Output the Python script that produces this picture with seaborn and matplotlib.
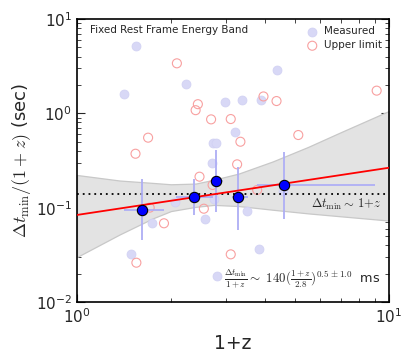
import numpy as np
import pandas as pd
import matplotlib
matplotlib.use("Agg")
import matplotlib.pyplot as plt
import matplotlib.ticker as mticker
import seaborn as sns

# ---------------- data ----------------
meas_x = [1.55, 1.415, 2.24, 4.36, 2.97, 3.38, 3.89, 3.21, 2.73, 2.79, 2.71,
          2.06, 2.75, 3.51, 2.57, 1.74, 1.49, 3.84, 4.58, 2.82]
meas_y = [5.2, 1.61, 2.06, 2.88, 1.31, 1.37, 1.40, 0.63, 0.49, 0.49, 0.30,
          0.115, 0.124, 0.093, 0.076, 0.069, 0.032, 0.0365, 0.151, 0.019]

ul_x = [2.09, 2.44, 2.40, 2.69, 3.11, 3.96, 4.36, 9.13, 1.69, 5.12, 3.34,
        1.54, 3.26, 2.47, 2.72, 3.78, 1.71, 2.55, 1.90, 3.11, 1.55]
ul_y = [3.39, 1.25, 1.08, 0.863, 0.87, 1.51, 1.35, 1.74, 0.552, 0.589, 0.50,
        0.373, 0.288, 0.213, 0.174, 0.154, 0.100, 0.0975, 0.0683, 0.032, 0.0261]

bin_x = [1.615, 2.38, 2.78, 3.28, 4.62]
bin_y = [0.0953, 0.129, 0.192, 0.131, 0.173]
bin_xlo = [1.417, 2.07, 2.72, 3.15, 3.78]
bin_xhi = [1.90, 2.72, 2.93, 3.52, 9.03]
bin_ylo = [0.0454, 0.0838, 0.0909, 0.058, 0.0752]
bin_yhi = [0.200, 0.200, 0.41, 0.27, 0.39]

fit_x = [1.0, 10.0]
fit_y = [0.0837, 0.265]

band_x = [1.0, 1.37, 1.75, 2.0, 2.4, 2.75, 3.3, 4.25, 5.5, 7.0, 10.0]
band_hi = [0.222, 0.194, 0.183, 0.177, 0.180, 0.198, 0.230, 0.31, 0.44, 0.63, 1.06]
band_lo = [0.030, 0.052, 0.077, 0.092, 0.102, 0.107, 0.104, 0.095, 0.087, 0.081, 0.073]

const_level = 0.138

# ---------------- style ----------------
sns.set_style("ticks")
plt.rcParams["font.family"] = ["DejaVu Sans"]
plt.rcParams["mathtext.fontset"] = "cm"
plt.rcParams["xtick.direction"] = "in"
plt.rcParams["ytick.direction"] = "in"

fig = plt.figure(figsize=(4.15, 3.61), dpi=100)
ax = fig.add_axes([77/415, 1-302/361, (389-77)/415, (302-19)/361])
ax.set_xscale("log")
ax.set_yscale("log")

# confidence band
ax.fill_between(band_x, band_lo, band_hi, facecolor="#e3e3e3",
                edgecolor="#c8c8c8", linewidth=0.9, zorder=1)

meas = pd.DataFrame({"x": meas_x, "y": meas_y})
ul = pd.DataFrame({"x": ul_x, "y": ul_y})

sns.scatterplot(data=meas, x="x", y="y", ax=ax, s=42, color="#d8d8f6",
                edgecolor="#d0d0f3", linewidth=0.5, zorder=2, label="Measured")
sns.scatterplot(data=ul, x="x", y="y", ax=ax, s=42, facecolor="none",
                edgecolor="#f8a0a0", linewidth=0.8, zorder=2, label="Upper limit")

# constant line
ax.axhline(const_level, color="black", linestyle=(0, (1, 2.2)), linewidth=1.3, zorder=3)

# fit line
sns.lineplot(x=fit_x, y=fit_y, ax=ax, color="red", linewidth=1.3, zorder=4)

# binned points
bx = np.array(bin_x); by = np.array(bin_y)
xerr = [bx - np.array(bin_xlo), np.array(bin_xhi) - bx]
yerr = [by - np.array(bin_ylo), np.array(bin_yhi) - by]
ax.errorbar(bx, by, xerr=xerr, yerr=yerr, fmt="none", ecolor="#aeaef5",
            elinewidth=1.3, capsize=0, zorder=3)
sns.scatterplot(x=bin_x, y=bin_y, ax=ax, s=55, color="blue", edgecolor="black",
                linewidth=0.8, zorder=5, legend=False)

ax.set_xlim(1, 10)
ax.set_ylim(0.01, 10)
ax.xaxis.set_minor_formatter(mticker.NullFormatter())
ax.yaxis.set_minor_formatter(mticker.NullFormatter())

ax.tick_params(which="both", top=True, right=True, direction="in", labelsize=11)
ax.tick_params(which="major", length=6, width=0.8)
ax.tick_params(which="minor", length=3.2, width=0.6)
for sp in ax.spines.values():
    sp.set_linewidth(1.2)
    sp.set_color("black")

ax.set_xlabel("1+z", fontsize=13.5, labelpad=6)
ax.set_ylabel(r"$\Delta t_{\rm min}/(1+z)$ (sec)", fontsize=13, labelpad=2)

ax.text(0.042, 0.961, "Fixed Rest Frame Energy Band", transform=ax.transAxes,
        fontsize=7.5, va="center", ha="left")
ax.text(0.978, 0.346, r"$\Delta t_{\rm min} \sim\, 1\!+\!z$", transform=ax.transAxes,
        fontsize=9, va="center", ha="right")
ax.text(0.47, 0.081,
        r"$\frac{\Delta t_{\rm min}}{1+z} \sim\ 140(\frac{1+z}{2.8})^{0.5\,\pm 1.0}$  ms",
        transform=ax.transAxes, fontsize=9.3, va="center", ha="left")

leg = ax.legend(loc="upper right", frameon=False, fontsize=7.5, handletextpad=0.1,
                borderaxespad=0.3, labelspacing=0.4, markerscale=1.0)

fig.savefig("out.png", dpi=100)
